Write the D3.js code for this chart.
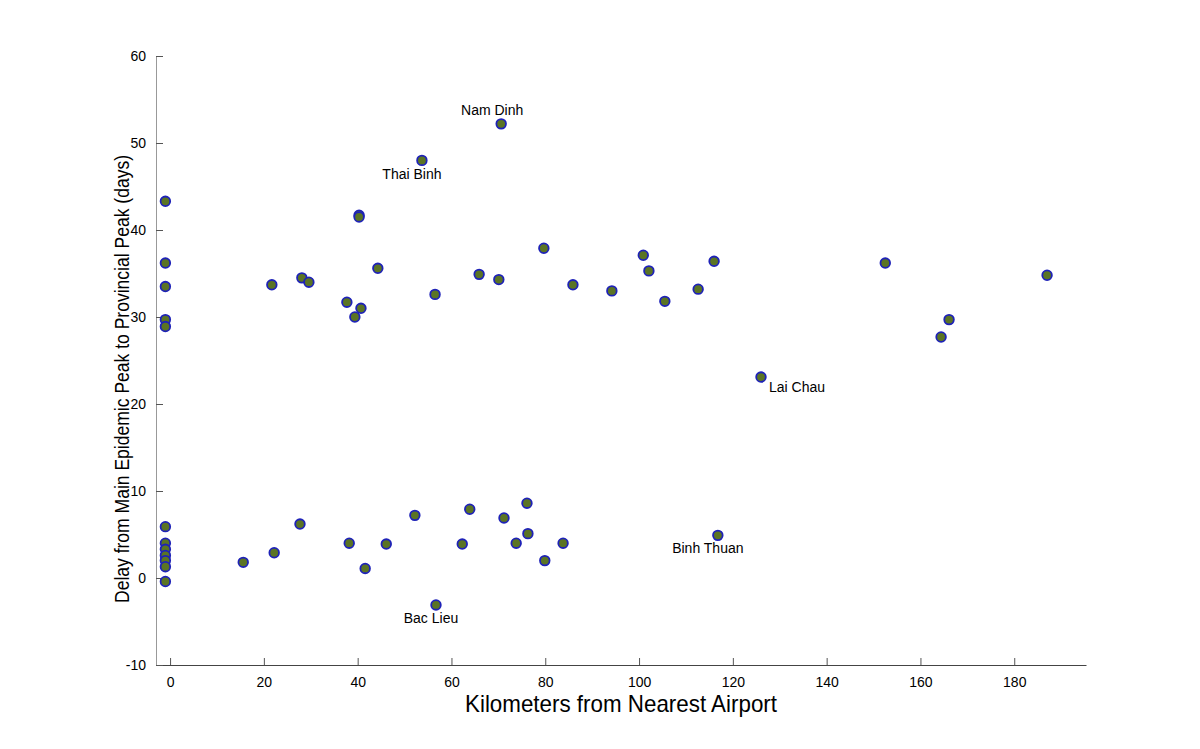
<!DOCTYPE html>
<html>
<head>
<meta charset="utf-8">
<script src="https://cdn.jsdelivr.net/npm/d3@7"></script>
<style>
  body { margin: 0; background: #fff; }
  text { font-family: "Liberation Sans", Arial, sans-serif; fill: #000; }
</style>
</head>
<body>
<div id="chart"></div>
<script>
// kilometres from nearest airport / delay in days
const xKm = [
    -1, -1, -1, -1, -1, -1, -1, -1, -1, -1, -1, -1,
    21.7, 28.1, 29.6, 37.7, 39.4, 40.7, 40.3, 40.3, 44.3, 53.7, 56.5, 65.9, 70.1, 70.6,
    79.7, 85.9, 94.2, 100.9, 102.1, 105.5, 112.6, 116.0, 126.0, 152.5, 164.4, 166.1, 187.0,
    15.6, 22.2, 27.7, 38.2, 41.6, 46.1, 52.2, 56.7, 62.3, 63.9, 71.2, 73.8, 76.1, 76.3,
    79.9, 83.8, 116.8
];
const delayDays = [
    43.3, 36.2, 33.5, 29.7, 28.9, 5.9, 4.0, 3.3, 2.6, 2.0, 1.3, -0.4,
    33.7, 34.5, 34.0, 31.7, 30.0, 31.0, 41.7, 41.5, 35.6, 48.0, 32.6, 34.9, 34.3, 52.2,
    37.9, 33.7, 33.0, 37.1, 35.3, 31.8, 33.2, 36.4, 23.1, 36.2, 27.7, 29.7, 34.8,
    1.8, 2.9, 6.2, 4.0, 1.1, 3.9, 7.2, -3.1, 3.9, 7.9, 6.9, 4.0, 8.6, 5.1,
    2.0, 4.0, 4.9
];

// named provinces: index into the arrays above, text anchor, label offset
const provinces = ['Nam Dinh', 'Thai Binh', 'Lai Chau', 'Binh Thuan', 'Bac Lieu'];
const provIndex = [25, 21, 34, 55, 46];
const provAnchor = ['middle', 'middle', 'start', 'middle', 'middle'];
const provDx = [-9, -10, 8, -10, -5];
const provDy = [-9, 19, 15, 18, 18];

const xTicks = [0, 20, 40, 60, 80, 100, 120, 140, 160, 180];
const yTicks = [-10, 0, 10, 20, 30, 40, 50, 60];

const W = 1200, H = 749;
const margin = { top: 56, right: 114, bottom: 84, left: 156 };
const width = W - margin.left - margin.right;
const height = H - margin.top - margin.bottom;

const svg = d3.select('#chart').append('svg').attr('width', W).attr('height', H);
const g = svg.append('g').attr('transform', 'translate(' + margin.left + ',' + margin.top + ')');

const x = d3.scaleLinear().domain([-3, 195.3]).range([0, width]);
const y = d3.scaleLinear().domain([-10, 60]).range([height, 0]);

// axes, ticks pointing inward like matlab
const xAxis = d3.axisBottom(x).tickValues(xTicks).tickFormat(d => String(d))
    .tickSizeInner(-7).tickSizeOuter(0).tickPadding(12);
const yAxis = d3.axisLeft(y).tickValues(yTicks).tickFormat(d => String(d))
    .tickSizeInner(-7).tickSizeOuter(0).tickPadding(10);

const xg = g.append('g').attr('transform', 'translate(0,' + height + ')').call(xAxis);
const yg = g.append('g').call(yAxis);

[xg, yg].forEach(a => {
    a.select('.domain').attr('stroke', '#444').attr('stroke-width', 1);
    a.selectAll('.tick line').attr('stroke', '#555');
    a.selectAll('.tick text').attr('font-size', 14).attr('fill', '#000')
        .attr('font-family', '"Liberation Sans", Arial, sans-serif');
});
yg.select('.domain').attr('stroke', '#999');

// points
const pts = d3.range(xKm.length);
g.append('g').selectAll('circle').data(pts).join('circle')
    .attr('cx', i => x(xKm[i]))
    .attr('cy', i => y(delayDays[i]))
    .attr('r', 4.8)
    .attr('fill', '#5b7424')
    .attr('stroke', '#1e22b8')
    .attr('stroke-width', 1.8);

// province labels
g.append('g').selectAll('text').data(provinces).join('text')
    .attr('x', (d, k) => x(xKm[provIndex[k]]) + provDx[k])
    .attr('y', (d, k) => y(delayDays[provIndex[k]]) + provDy[k])
    .attr('text-anchor', (d, k) => provAnchor[k])
    .attr('font-size', 14)
    .text(d => d);

// axis titles
svg.append('text')
    .attr('x', 621).attr('y', 712)
    .attr('text-anchor', 'middle')
    .attr('font-size', 24)
    .attr('textLength', 312).attr('lengthAdjust', 'spacingAndGlyphs')
    .text('Kilometers from Nearest Airport');

svg.append('text')
    .attr('transform', 'translate(129,379) rotate(-90)')
    .attr('text-anchor', 'middle')
    .attr('font-size', 20)
    .attr('textLength', 448).attr('lengthAdjust', 'spacingAndGlyphs')
    .text('Delay from Main Epidemic Peak to Provincial Peak (days)');
</script>
</body>
</html>
